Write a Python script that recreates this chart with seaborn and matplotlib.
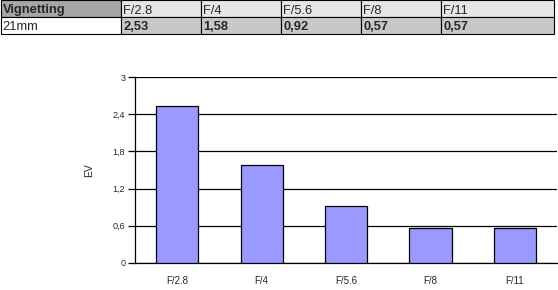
import matplotlib
matplotlib.use("Agg")
import matplotlib.pyplot as plt
import seaborn as sns
import pandas as pd
from matplotlib.patches import Rectangle

apertures = ["F/2.8", "F/4", "F/5.6", "F/8", "F/11"]
ev_values = [2.53, 1.58, 0.92, 0.57, 0.57]
value_labels = ["2,53", "1,58", "0,92", "0,57", "0,57"]
table_title = "Vignetting"
row_label = "21mm"
y_ticks = [0, 0.6, 1.2, 1.8, 2.4, 3]
y_tick_labels = ["0", "0,6", "1,2", "1,8", "2,4", "3"]

sns.set_style("white")
plt.rcParams['font.family'] = ['Liberation Sans', 'DejaVu Sans']

W, H = 558, 290
fig = plt.figure(figsize=(W / 100, H / 100), dpi=100)

# ---- table at top (pixel coords converted to figure fractions)
def px_rect(x0, y0, x1, y1, fc):
    fig.patches.append(Rectangle((x0 / W, 1 - y1 / H), (x1 - x0) / W, (y1 - y0) / H,
                                 transform=fig.transFigure, facecolor=fc,
                                 edgecolor="black", linewidth=0.8, zorder=1))

col_edges = [0.5, 121, 201, 281, 361, 441, 554]
rows = [(0.5, 17), (17, 34)]
fs_table = 9.3
base_off = 3.5
# header row
px_rect(col_edges[0], rows[0][0], col_edges[1], rows[0][1], "#a6a6a6")
fig.text((col_edges[0] + 2) / W, 1 - (rows[0][1] - base_off) / H, table_title, fontsize=fs_table,
         fontweight="bold", ha="left", va="baseline")
for i, a in enumerate(apertures):
    px_rect(col_edges[i + 1], rows[0][0], col_edges[i + 2], rows[0][1], "#e6e6e6")
    fig.text((col_edges[i + 1] + 2) / W, 1 - (rows[0][1] - base_off) / H, a, fontsize=fs_table,
             ha="left", va="baseline")
# value row
px_rect(col_edges[0], rows[1][0], col_edges[1], rows[1][1], "white")
fig.text((col_edges[0] + 2) / W, 1 - (rows[1][1] - base_off) / H, row_label, fontsize=fs_table,
         ha="left", va="baseline")
for i, v in enumerate(value_labels):
    px_rect(col_edges[i + 1], rows[1][0], col_edges[i + 2], rows[1][1], "#c8c8c8")
    fig.text((col_edges[i + 1] + 2) / W, 1 - (rows[1][1] - base_off) / H, v, fontsize=fs_table,
             fontweight="bold", ha="left", va="baseline")

# ---- chart
ax = fig.add_axes([135 / W, (H - 263) / H, (557 - 135) / W, (263 - 77) / H])
df = pd.DataFrame({"aperture": apertures, "ev": ev_values})
sns.barplot(data=df, x="aperture", y="ev", color="#9999ff", saturation=1,
            edgecolor="black", linewidth=0.9, width=0.5, ax=ax, zorder=3)

ax.set_xlim(-0.5, len(apertures) - 0.5)
ax.set_ylim(0, 3)
ax.set_yticks(y_ticks)
ax.set_yticklabels(y_tick_labels, fontsize=6.5)
ax.yaxis.grid(True, color="black", linewidth=0.9)
ax.set_axisbelow(True)

ax.set_xticks(range(len(apertures)))
ax.set_xticklabels(apertures, fontsize=7)
ax.set_xticks([i - 0.5 for i in range(len(apertures) + 1)], minor=True)
ax.tick_params(axis="x", which="major", length=0, pad=9)
ax.tick_params(axis="x", which="minor", length=5, width=0.9, color="black", direction="out")
ax.tick_params(axis="y", length=5, width=0.9, color="black", direction="out", pad=2, left=True)

for s in ["top", "right"]:
    ax.spines[s].set_visible(False)
for s in ["left", "bottom"]:
    ax.spines[s].set_color("black")
    ax.spines[s].set_linewidth(0.9)

ax.set_xlabel("")
ax.set_ylabel("EV", fontsize=7.5, labelpad=13)

fig.savefig("out.png", dpi=100)
